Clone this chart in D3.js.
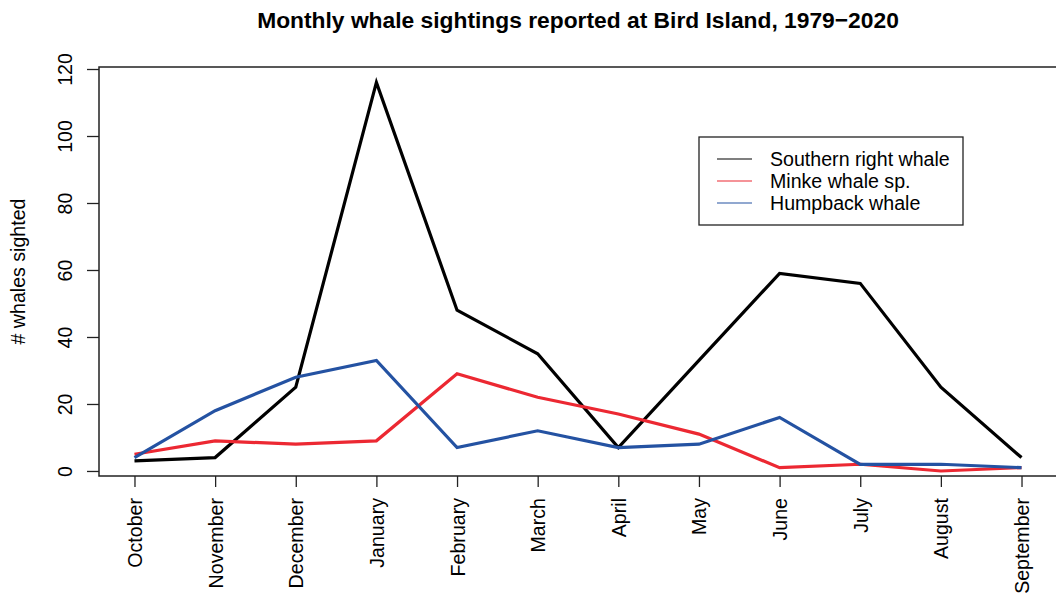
<!DOCTYPE html>
<html>
<head>
<meta charset="utf-8">
<script src="https://cdn.jsdelivr.net/npm/d3@7"></script>
<style>
  body { margin: 0; background: #fff; }
  svg { display: block; font-family: "Liberation Sans", Arial, sans-serif; }
</style>
</head>
<body>
<svg id="chart" width="1056" height="593"></svg>
<script>
// Data
const months = ["October", "November", "December", "January", "February", "March",
  "April", "May", "June", "July", "August", "September"];
const southernRight = [3, 4, 25, 116, 48, 35, 7, 33, 59, 56, 25, 4];
const minke = [5, 9, 8, 9, 29, 22, 17, 11, 1, 2, 0, 1];
const humpback = [4, 18, 28, 33, 7, 12, 7, 8, 16, 2, 2, 1];
const yTicks = [0, 20, 40, 60, 80, 100, 120];

const series = [
  { name: "Southern right whale", values: southernRight, color: "#000000" },
  { name: "Minke whale sp.", values: minke, color: "#ec2832" },
  { name: "Humpback whale", values: humpback, color: "#2452a2" }
];

const box = { left: 99, right: 1057, top: 67, bottom: 476 };
const labelSize = "19.6px";

const svg = d3.select("#chart");

const x = d3.scaleLinear()
  .domain([-0.44, months.length - 1 + 0.44])
  .range([box.left, box.right]);

const y = d3.scaleLinear()
  .domain([-1.5, 120.6])
  .range([box.bottom, box.top]);

// Plot box
svg.append("rect")
  .attr("x", box.left)
  .attr("y", box.top)
  .attr("width", box.right - box.left)
  .attr("height", box.bottom - box.top)
  .attr("fill", "none")
  .attr("stroke", "#222")
  .attr("stroke-width", 1.5);

// Y axis
const yAxis = d3.axisLeft(y)
  .tickValues(yTicks)
  .tickSize(12)
  .tickFormat(d3.format("d"));

const gy = svg.append("g")
  .attr("transform", `translate(${box.left},0)`)
  .call(yAxis);
gy.select(".domain").remove();
gy.selectAll(".tick line").attr("stroke", "#222").attr("stroke-width", 1.3);
gy.selectAll(".tick text")
  .attr("x", 0).attr("y", 0)
  .attr("dy", null)
  .attr("text-anchor", "middle")
  .attr("dominant-baseline", "central")
  .attr("transform", "translate(-34,0) rotate(-90)")
  .style("font-size", labelSize)
  .attr("fill", "#000");

// X axis
const xAxis = d3.axisBottom(x)
  .tickValues(d3.range(months.length))
  .tickSize(11)
  .tickFormat(i => months[i]);

const gx = svg.append("g")
  .attr("transform", `translate(0,${box.bottom})`)
  .call(xAxis);
gx.select(".domain").remove();
gx.selectAll(".tick line").attr("stroke", "#222").attr("stroke-width", 1.3);
gx.selectAll(".tick text")
  .attr("x", 0).attr("y", 0)
  .attr("dy", null)
  .attr("text-anchor", "end")
  .attr("dominant-baseline", "central")
  .attr("transform", "translate(0,22) rotate(-90)")
  .style("font-size", labelSize)
  .attr("fill", "#000");

// Lines
const line = d3.line()
  .x((d, i) => x(i))
  .y(d => y(d));

svg.append("g")
  .selectAll("path")
  .data(series)
  .join("path")
  .attr("d", d => line(d.values))
  .attr("fill", "none")
  .attr("stroke", d => d.color)
  .attr("stroke-width", 3.2)
  .attr("stroke-linejoin", "miter");

// Title
svg.append("text")
  .attr("x", (box.left + box.right) / 2)
  .attr("y", 28)
  .attr("text-anchor", "middle")
  .style("font-weight", "bold")
  .style("font-size", "22.8px")
  .text("Monthly whale sightings reported at Bird Island, 1979\u22122020");

// Y label
svg.append("text")
  .attr("transform", `translate(25,${(box.top + box.bottom) / 2}) rotate(-90)`)
  .attr("text-anchor", "middle")
  .style("font-size", labelSize)
  .text("# whales sighted");

// Legend
const legend = svg.append("g").attr("transform", "translate(699,137)");
legend.append("rect")
  .attr("width", 264)
  .attr("height", 88)
  .attr("fill", "#fff")
  .attr("stroke", "#222")
  .attr("stroke-width", 1.3);

const rows = legend.selectAll("g.row")
  .data(series)
  .join("g")
  .attr("class", "row")
  .attr("transform", (d, i) => `translate(0,${22 + i * 22})`);

rows.append("line")
  .attr("x1", 18).attr("x2", 53)
  .attr("stroke", d => d.color)
  .attr("stroke-width", 1.2);

rows.append("text")
  .attr("x", 71)
  .attr("dominant-baseline", "central")
  .style("font-size", labelSize)
  .text(d => d.name);
</script>
</body>
</html>
